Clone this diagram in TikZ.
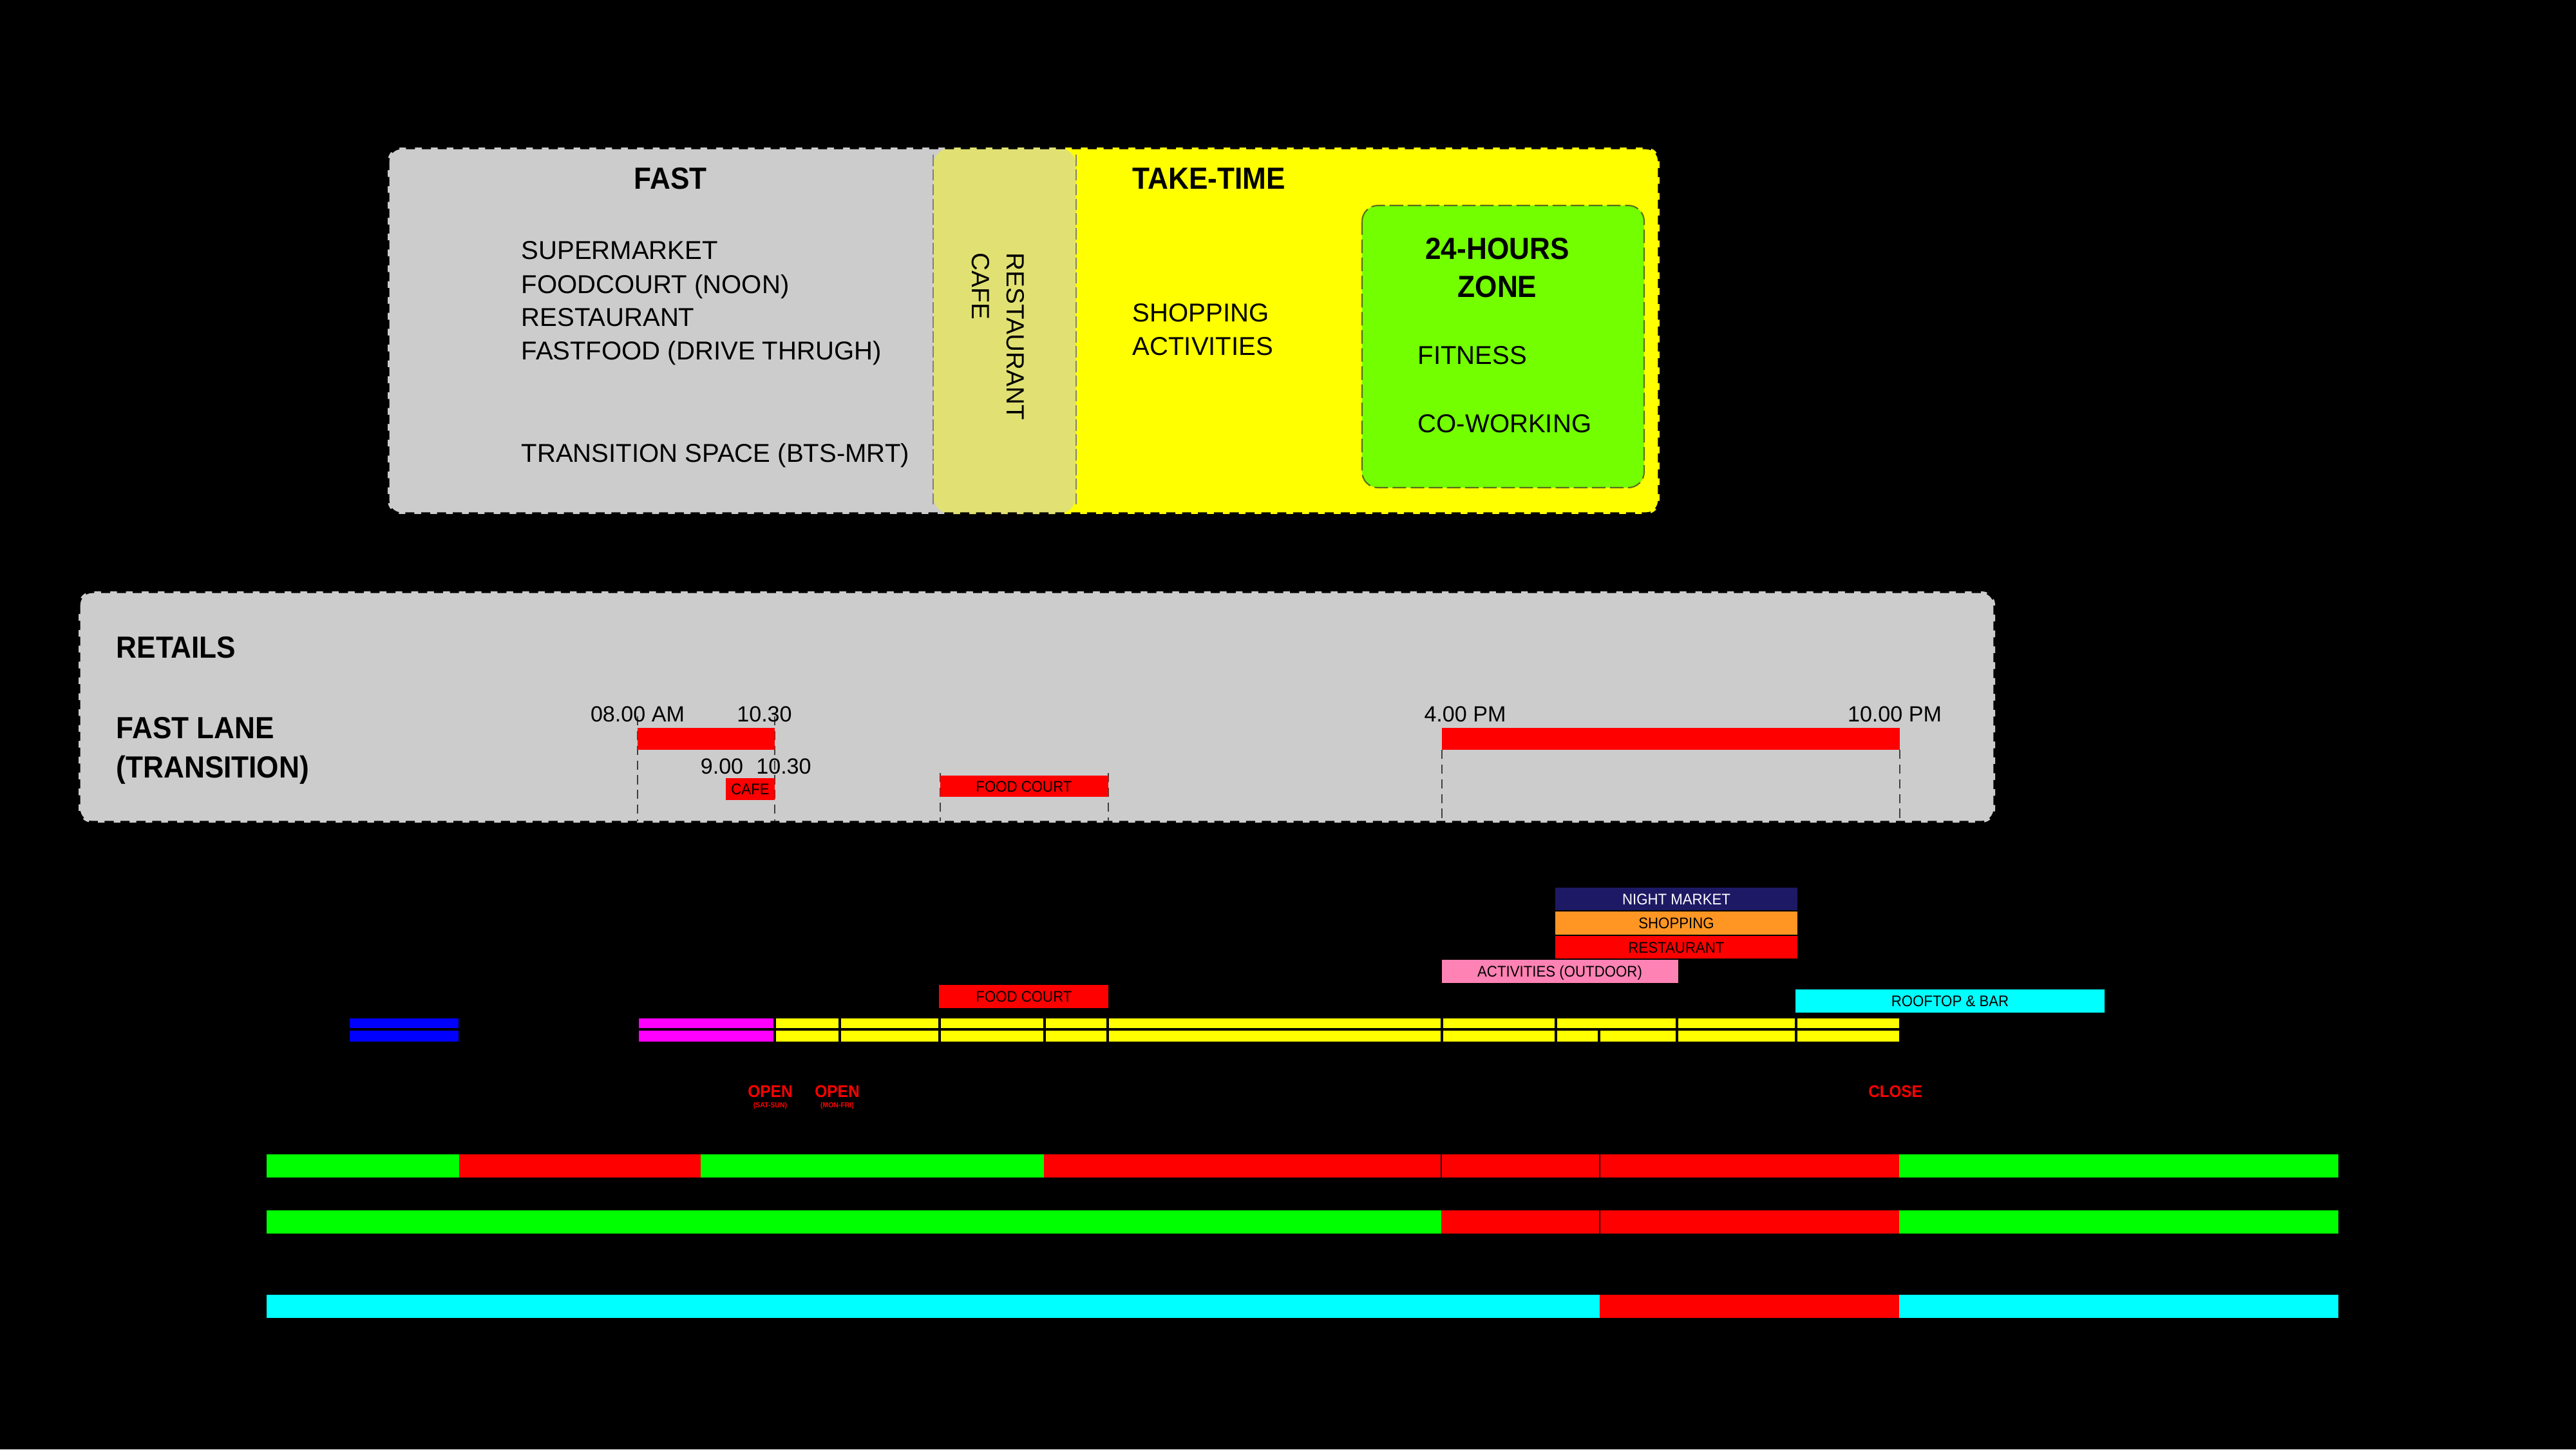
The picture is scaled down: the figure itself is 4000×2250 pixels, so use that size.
\documentclass[tikz,border=0pt]{standalone}
\usepackage{fontspec}
\setmainfont{Liberation Sans}
\newfontfamily\hfont{Liberation Sans}[FakeStretch=0.93]
\definecolor{cgray}{RGB}{204,204,204}
\definecolor{cyel}{RGB}{255,255,0}
\definecolor{ccafe}{RGB}{225,225,115}
\definecolor{czone}{RGB}{115,255,0}
\definecolor{czoneb}{RGB}{90,110,30}
\definecolor{cgreen}{RGB}{0,255,0}
\definecolor{cred}{RGB}{255,0,0}
\definecolor{ccyan}{RGB}{0,255,255}
\definecolor{cmag}{RGB}{255,0,255}
\definecolor{cblue}{RGB}{0,0,255}
\definecolor{cnavy}{RGB}{30,25,100}
\definecolor{corange}{RGB}{255,150,35}
\definecolor{cpink}{RGB}{255,130,180}
\begin{document}
\begin{tikzpicture}[x=0.01cm,y=-0.01cm,
  reg/.style={font=\fontsize{11.4}{13}\selectfont, anchor=base west, inner sep=0pt},
  hd/.style={font=\hfont\bfseries\fontsize{13.5}{16}\selectfont, inner sep=0pt, anchor=base},
  tim/.style={font=\fontsize{9.7}{11}\selectfont, inner sep=0pt, anchor=base},
  lab/.style={font=\hfont\fontsize{6.8}{8}\selectfont, inner sep=0pt, anchor=base},
  outline/.style={draw=black, line width=1.5pt, dash pattern=on 4pt off 3pt},
  guide/.style={draw=black!75, line width=0.5pt, dash pattern=on 4pt off 2.5pt},
  sep/.style={draw=black, line width=0.9pt},
  thin/.style={draw=black, line width=0.35pt},
  redtxt/.style={text=cred, inner sep=0pt, anchor=base}]
\useasboundingbox (0,0) rectangle (4000,2250);
\fill[black] (0,0) rectangle (4000,2250);

% ---------------- top box ----------------
\begin{scope}
  \clip[rounded corners=6pt] (602,229) rectangle (2577,798);
  \fill[cgray] (602,229) rectangle (1560,798);
  \fill[cyel] (1560,229) rectangle (2577,798);
\end{scope}
\fill[ccafe, rounded corners=8pt] (1449,229) rectangle (1671,798);
\draw[draw=black!50, line width=0.6pt, dash pattern=on 5pt off 1.5pt] (1449,240) -- (1449,787);
\draw[draw=black!50, line width=0.6pt, dash pattern=on 5pt off 1.5pt] (1671,240) -- (1671,787);
\draw[outline, rounded corners=6pt] (602,229) rectangle (2577,798);
\draw[fill=czone, draw=czoneb, line width=0.6pt, dash pattern=on 6pt off 2pt, rounded corners=7pt] (2115,319) rectangle (2553,757);

\node[hd] (fast) at (1041,293) {FAST};
\node[reg] (sup) at (809,402) {SUPERMARKET};
\node[reg] (fc) at (809,455) {FOODCOURT (NOON)};
\node[reg] (rest) at (809,506) {RESTAURANT};
\node[reg] (ff) at (809,558) {FASTFOOD (DRIVE THRUGH)};
\node[reg] (trs) at (809,717) {TRANSITION SPACE (BTS-MRT)};
\node[reg, font=\fontsize{11}{13}\selectfont, rotate=-90] (crest) at (1563,392) {RESTAURANT};
\node[reg, font=\fontsize{11}{13}\selectfont, rotate=-90] (ccafe) at (1509,392) {CAFE};
\node[hd, anchor=base west] (take) at (1758,293) {TAKE-TIME};
\node[reg] (shop) at (1758,499) {SHOPPING};
\node[reg] (act) at (1758,551) {ACTIVITIES};
\node[hd] (h24) at (2325,402) {24-HOURS};
\node[hd] (zone) at (2325,461) {ZONE};
\node[reg] (fit) at (2201,565) {FITNESS};
\node[reg] (cow) at (2201,671) {CO-WORKING};

% ---------------- retails box ----------------
\fill[cgray, rounded corners=6pt] (122,918) rectangle (3098,1277);
\draw[outline, rounded corners=6pt] (122,918) rectangle (3098,1277);
\node[hd, anchor=base west] (ret) at (180,1021) {RETAILS};
\node[hd, anchor=base west] (fl1) at (180,1146) {FAST LANE};
\node[hd, anchor=base west] (fl2) at (180,1207) {(TRANSITION)};

\draw[guide] (990,1112) -- (990,1275);
\draw[guide] (1203,1112) -- (1203,1275);
\draw[guide] (1460,1200) -- (1460,1275);
\draw[guide] (1721,1200) -- (1721,1275);
\draw[guide] (2239,1164) -- (2239,1275);
\draw[guide] (2950,1164) -- (2950,1275);

\fill[cred] (990,1130) rectangle (1203,1164);
\fill[cred] (2239,1130) rectangle (2950,1164);
\fill[cred] (1127,1208) rectangle (1203,1242);
\node[lab] (cafe) at (1165,1233) {CAFE};
\fill[cred] (1460,1204) rectangle (1721,1237);
\node[lab] (fc1) at (1590,1229) {FOOD COURT};

\node[tim] (t8) at (990,1120) {08.00 AM};
\node[tim] (t1030) at (1187,1120) {10.30};
\node[tim] (t9) at (1121,1201) {9.00};
\node[tim] (t1030b) at (1217,1201) {10.30};
\node[tim] (t4) at (2275,1120) {4.00 PM};
\node[tim] (t10) at (2942,1120) {10.00 PM};

% ---------------- activity blocks ----------------
\fill[cnavy] (2415,1378) rectangle (2791,1413);
\node[lab, text=white] (nm) at (2603,1404) {NIGHT MARKET};
\fill[corange] (2415,1415) rectangle (2791,1451);
\node[lab] (shp) at (2603,1441) {SHOPPING};
\fill[cred] (2415,1453) rectangle (2791,1488);
\node[lab] (rst) at (2603,1479) {RESTAURANT};
\fill[cpink] (2239,1490) rectangle (2606,1526);
\node[lab] (actout) at (2422,1516) {ACTIVITIES (OUTDOOR)};
\fill[ccyan] (2788,1536) rectangle (3268,1572);
\node[lab] (roof) at (3028,1562) {ROOFTOP \& BAR};
\fill[cred] (1458,1529) rectangle (1721,1565);
\node[lab] (fc2) at (1590,1555) {FOOD COURT};

% ---------------- timeline bar ----------------
\fill[cblue] (543,1581) rectangle (712,1617);
\fill[cmag] (992,1581) rectangle (1203,1617);
\fill[cyel] (1203,1581) rectangle (2949,1617);
\draw[sep] (543,1598) -- (712,1598);
\draw[sep] (992,1598) -- (2949,1598);
\foreach \xx in {1203,1304,1459,1622,1720,2239,2416,2604,2789}
  \draw[sep] (\xx,1578) -- (\xx,1621);
\draw[sep] (2483,1598) -- (2483,1621);

\node[redtxt, font=\hfont\bfseries\fontsize{7.5}{9}\selectfont] (op1) at (1196,1703) {OPEN};
\node[redtxt, font=\hfont\bfseries\fontsize{3.2}{4}\selectfont] (op1d) at (1196,1719) {(SAT-SUN)};
\node[redtxt, font=\hfont\bfseries\fontsize{7.5}{9}\selectfont] (op2) at (1300,1703) {OPEN};
\node[redtxt, font=\hfont\bfseries\fontsize{3.2}{4}\selectfont] (op2d) at (1300,1719) {(MON-FRI)};
\node[redtxt, font=\hfont\bfseries\fontsize{7.4}{9}\selectfont] (cls) at (2943,1703) {CLOSE};

% ---------------- bottom rows ----------------
\fill[cgreen] (414,1792) rectangle (713,1828);
\fill[cred] (713,1792) rectangle (1088,1828);
\fill[cgreen] (1088,1792) rectangle (1621,1828);
\fill[cred] (1621,1792) rectangle (2949,1828);
\fill[cgreen] (2949,1792) rectangle (3631,1828);
\draw[thin] (2238,1792) -- (2238,1828);
\draw[thin] (2484,1792) -- (2484,1828);

\fill[cgreen] (414,1879) rectangle (2238,1915);
\fill[cred] (2238,1879) rectangle (2949,1915);
\fill[cgreen] (2949,1879) rectangle (3631,1915);
\draw[thin] (2484,1879) -- (2484,1915);

\fill[ccyan] (414,2010) rectangle (2484,2046);
\fill[cred] (2484,2010) rectangle (2949,2046);
\fill[ccyan] (2949,2010) rectangle (3631,2046);
\end{tikzpicture}
\end{document}
